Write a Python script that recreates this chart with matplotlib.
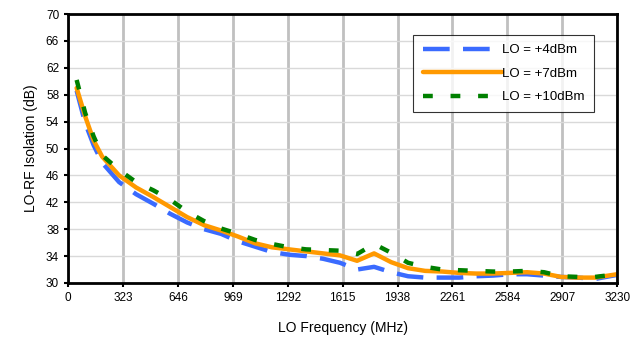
import numpy as np
import matplotlib.pyplot as plt

plt.rcParams['font.family'] = ['Liberation Sans', 'DejaVu Sans']

# LO frequency points (MHz)
freq = [50, 100, 150, 200, 300, 400, 500, 600, 700, 800, 900, 1000, 1100, 1200,
        1300, 1400, 1500, 1600, 1700, 1800, 1900, 2000, 2100, 2200, 2300, 2400,
        2500, 2600, 2700, 2800, 2900, 3000, 3100, 3230]

# LO-RF isolation (dB) for each LO drive level
iso_4dbm = [58.6, 53.8, 50.5, 47.9, 45.0, 43.2, 41.8, 40.3, 39.0, 38.0, 37.3, 36.2,
            35.4, 34.6, 34.2, 34.0, 33.6, 33.0, 32.0, 32.4, 31.6, 31.0, 30.8, 30.8,
            30.8, 31.0, 31.1, 31.3, 31.3, 31.1, 30.9, 30.8, 30.6, 31.2]
iso_7dbm = [59.0, 54.8, 51.2, 48.8, 46.0, 44.2, 42.8, 41.3, 39.8, 38.6, 37.8, 36.9,
            35.9, 35.3, 35.0, 34.7, 34.4, 34.1, 33.3, 34.4, 33.1, 32.2, 31.8, 31.7,
            31.5, 31.4, 31.4, 31.5, 31.6, 31.4, 30.9, 30.8, 30.8, 31.3]
iso_10dbm = [60.2, 55.3, 51.8, 49.0, 46.8, 45.0, 43.8, 42.4, 40.6, 39.2, 38.1, 37.3,
             36.4, 35.8, 35.3, 35.0, 34.9, 34.8, 34.3, 35.8, 34.5, 33.0, 32.4, 32.0,
             31.9, 31.8, 31.7, 31.7, 31.8, 31.6, 31.0, 30.9, 30.9, 31.3]

xticks = [0, 323, 646, 969, 1292, 1615, 1938, 2261, 2584, 2907, 3230]
yticks = [30, 34, 38, 42, 46, 50, 54, 58, 62, 66, 70]

fig = plt.figure(figsize=(6.31, 3.43), dpi=100)
ax = fig.add_axes([0.108, 0.175, 0.870, 0.784])

ax.plot(freq, iso_4dbm, color="#3a6bff", linewidth=3.2, dashes=(6, 3), label="LO = +4dBm")
ax.plot(freq, iso_7dbm, color="#ff9900", linewidth=3.2, solid_capstyle="round", label="LO = +7dBm")
ax.plot(freq, iso_10dbm, color="#008000", linewidth=3.2, dashes=(2.2, 4), label="LO = +10dBm")

ax.set_xlim(0, 3230)
ax.set_ylim(30, 70)
ax.set_xticks(xticks)
ax.set_yticks(yticks)
ax.tick_params(labelsize=8.5, width=1.5, length=3, direction="out")

ax.xaxis.grid(True, color="#c0c0c0", linewidth=2)
ax.yaxis.grid(True, color="#d9d9d9", linewidth=1)
ax.set_axisbelow(True)
for s in ax.spines.values():
    s.set_linewidth(2)

ax.set_xlabel("LO Frequency (MHz)", fontsize=10, labelpad=12)
ax.set_ylabel("LO-RF Isolation (dB)", fontsize=10, labelpad=6)

leg = ax.legend(loc="upper right", bbox_to_anchor=(0.957, 0.923), fontsize=9.5,
                handlelength=6.0, handletextpad=0.0, frameon=True, fancybox=False,
                borderpad=0.7, labelspacing=0.85, borderaxespad=0)
leg.get_frame().set_edgecolor("#000000")
leg.get_frame().set_linewidth(0.8)

plt.savefig("out.png", dpi=100)
